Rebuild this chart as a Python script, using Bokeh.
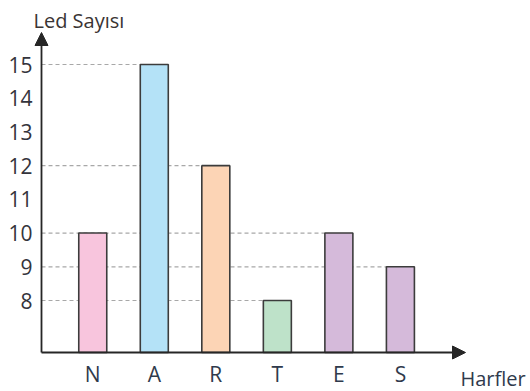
import numpy as np
from bokeh.plotting import figure
from bokeh.models import Range1d, Arrow, NormalHead, Label, LabelSet, ColumnDataSource
from bokeh.core.properties import value
from bokeh.embed import file_html
from bokeh.resources import INLINE

# ---- data ----
letters = ["N", "A", "R", "T", "E", "S"]
led_counts = [10, 15, 12, 8, 10, 9]
y_tick_values = [8, 9, 10, 11, 12, 13, 14, 15]
x_title = "Harfler"
y_title = "Led Sayısı"

# ---- styles ----
bar_colors = ["#f8c5dd", "#b4e2f7", "#fcd4b5", "#bee2c9", "#d5bada", "#d5bada"]
FONT = "Open Sans"
TEXT_NUM = "#34343c"
TEXT_CAT = "#2f3a4c"
AXIS_COLOR = "#262626"

W, H = 530, 391
PX_X = 61.53      # pixels per category step
PX_Y = 33.714     # pixels per unit
CX0 = 92.26       # pixel of first category centre
x_pos = np.arange(len(letters))
BAR_W = 28 / PX_X
X_AXIS = (41 - CX0) / PX_X
Y_BASE = 8 - 52 / PX_Y

x0 = -CX0 / PX_X
y1 = 8 + 300 / PX_Y
p = figure(width=W, height=H,
           x_range=Range1d(x0, x0 + W / PX_X), y_range=Range1d(y1 - H / PX_Y, y1),
           x_axis_location=None, y_axis_location=None,
           output_backend="svg", toolbar_location=None,
           min_border_left=0, min_border_top=0, min_border_right=0, min_border_bottom=0)
p.outline_line_color = None
p.grid.visible = False
p.background_fill_color = "white"
p.border_fill_color = "white"

# dashed guide lines: from the y axis to the left edge of the right-most bar with that value
counts = np.array(led_counts)
gx0, gx1, gy = [], [], []
for v in sorted(set(led_counts)):
    idx = int(np.max(np.where(counts == v)[0]))
    gx0.append(X_AXIS)
    gx1.append(x_pos[idx] - BAR_W / 2)
    gy.append(v)
p.segment(x0=gx0, y0=gy, x1=gx1, y1=gy, line_color="#a8a8a8", line_width=1.2, line_dash="4 3")

# bars
p.vbar(x=x_pos, top=led_counts, bottom=Y_BASE, width=BAR_W,
       fill_color=bar_colors, line_color="#3c3c3c", line_width=1.6)

# axes with arrow heads
p.add_layout(Arrow(end=NormalHead(size=13, fill_color=AXIS_COLOR, line_color=AXIS_COLOR),
                   x_start=X_AXIS, y_start=Y_BASE, x_end=X_AXIS, y_end=15 + 32 / PX_Y,
                   line_color=AXIS_COLOR, line_width=1.8))
p.add_layout(Arrow(end=NormalHead(size=13, fill_color=AXIS_COLOR, line_color=AXIS_COLOR),
                   x_start=X_AXIS, y_start=Y_BASE, x_end=(465 - CX0) / PX_X, y_end=Y_BASE,
                   line_color=AXIS_COLOR, line_width=1.8))

# y tick labels
ysrc = ColumnDataSource(dict(y=y_tick_values, x=[X_AXIS - 9 / PX_X] * len(y_tick_values),
                             t=[str(v) for v in y_tick_values]))
p.add_layout(LabelSet(x="x", y="y", text="t", source=ysrc, text_font=value(FONT),
                      text_font_size=value("21px"), text_color=TEXT_NUM,
                      text_align="right", text_baseline="middle"))

# x category labels
xsrc = ColumnDataSource(dict(x=x_pos, y=[Y_BASE - 29 / PX_Y] * len(letters), t=letters))
p.add_layout(LabelSet(x="x", y="y", text="t", source=xsrc, text_font=value(FONT),
                      text_font_size=value("21px"), text_color=TEXT_CAT,
                      text_align="center", text_baseline="alphabetic"))

# axis titles
p.add_layout(Label(x=(33 - CX0) / PX_X, y=8 + (300 - 19.5) / PX_Y, text=y_title, text_font=FONT,
                   text_font_size="20px", text_color="#3a3433",
                   text_align="left", text_baseline="alphabetic"))
p.add_layout(Label(x=(460 - CX0) / PX_X, y=8 - 78 / PX_Y, text=x_title, text_font=FONT,
                   text_font_size="20px", text_color=TEXT_CAT,
                   text_align="left", text_baseline="alphabetic"))

open("out.html", "w").write(file_html(p, INLINE))
